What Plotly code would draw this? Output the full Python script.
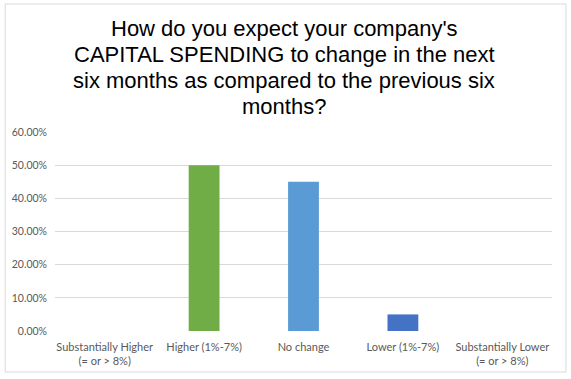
import plotly.graph_objects as go

categories = ["Substantially Higher<br>(= or > 8%)", "Higher (1%-7%)", "No change",
              "Lower (1%-7%)", "Substantially Lower<br>(= or > 8%)"]
values = [0.0, 0.50, 0.45, 0.05, 0.0]
colors = ["#70AD47", "#70AD47", "#5B9BD5", "#4472C4", "#4472C4"]
tick_vals = [0, 0.1, 0.2, 0.3, 0.4, 0.5, 0.6]
tick_text = ["0.00%", "10.00%", "20.00%", "30.00%", "40.00%", "50.00%", "60.00%"]
title_lines = ["How do you expect your company's",
               "CAPITAL SPENDING to change in the next",
               "six months as compared to the previous six",
               "months?"]

W, H = 571, 379
L, R, T, B = 53, 19, 132, 48
PW, PH = W - L - R, H - T - B

fig = go.Figure(go.Bar(x=categories, y=values, marker=dict(color=colors, line=dict(width=0)),
                       hoverinfo="skip"))

title_annotations = []
for i, line in enumerate(title_lines):
    baseline = 35 + 26 * i
    center_px = baseline - 6.5
    title_annotations.append(dict(
        text=line, xref="paper", yref="paper",
        x=(283 - L) / PW, y=(H - B - center_px) / PH,
        xanchor="center", yanchor="middle", showarrow=False, align="center",
        font=dict(family="Liberation Sans, Arial, sans-serif", size=22, color="#000000")))

fig.update_layout(
    width=W, height=H,
    margin=dict(l=L, r=R, t=T, b=B, pad=0),
    paper_bgcolor="white", plot_bgcolor="white",
    bargap=0.69, showlegend=False,
    font=dict(family="Lato, Carlito, Liberation Sans, sans-serif", size=11, color="#595959"),
    xaxis=dict(showgrid=False, zeroline=False, showline=False, ticks="",
               ticklabelstandoff=8,
               tickfont=dict(size=11, color="#595959"), fixedrange=True),
    yaxis=dict(range=[0, 0.6], tickvals=tick_vals, ticktext=tick_text, showgrid=True,
               gridcolor="#D9D9D9", gridwidth=1, zeroline=False, showline=False, ticks="",
               ticklabelstandoff=7, tickfont=dict(size=10.5, color="#595959"), fixedrange=True),
    shapes=[dict(type="rect", xref="paper", yref="paper",
                 x0=(3 - L) / PW, x1=(566 - L) / PW,
                 y0=(H - B - 372) / PH, y1=(H - B - 4) / PH,
                 line=dict(color="#D9D9D9", width=1), fillcolor="rgba(0,0,0,0)", layer="below")],
    annotations=title_annotations,
)

fig.write_html("out.html", config={"displayModeBar": False},
               post_script="document.body.style.margin='0';document.body.style.padding='0';")
